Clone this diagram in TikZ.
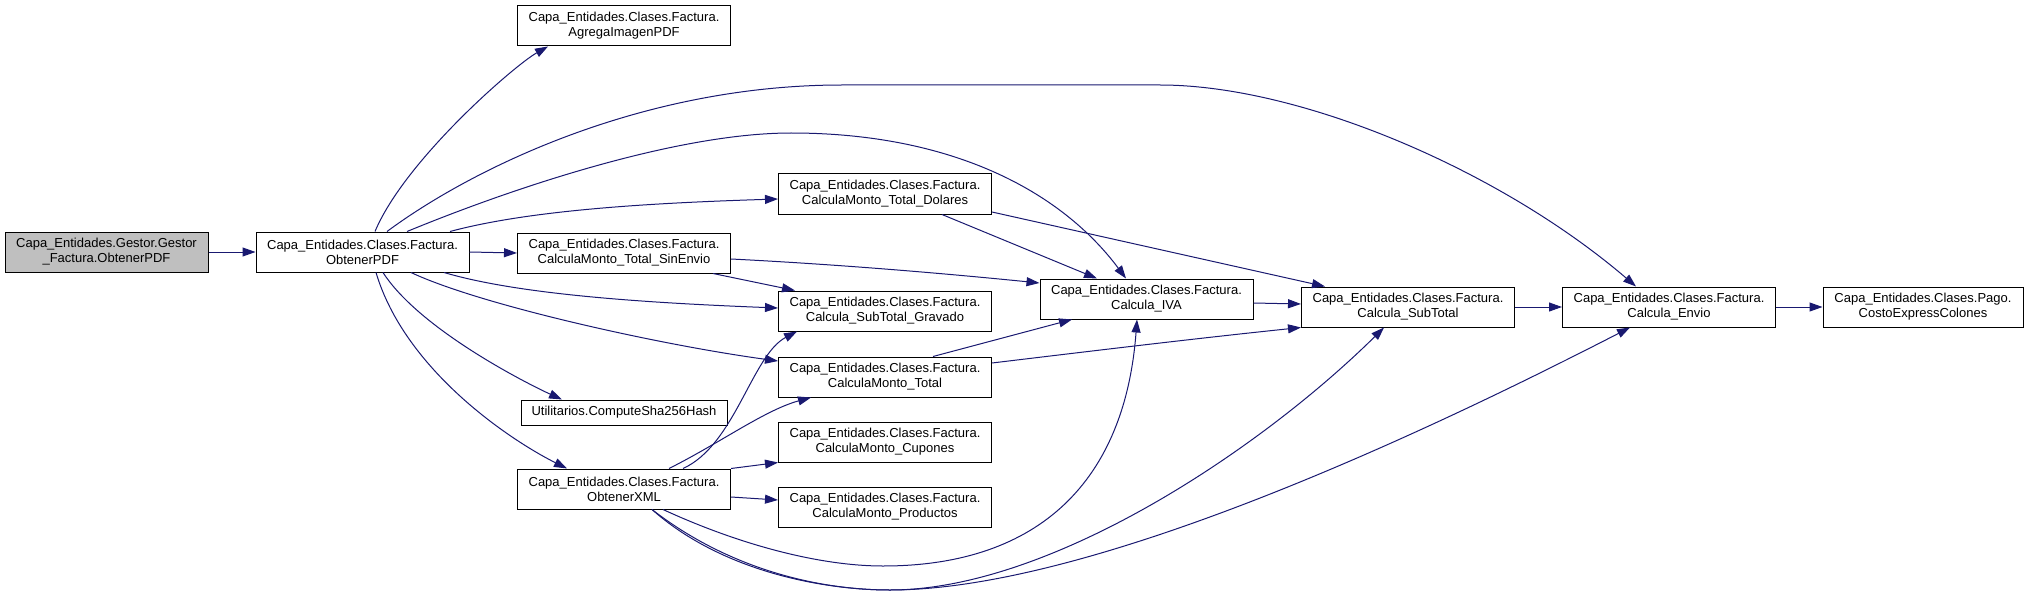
\documentclass[tikz,border=0pt]{standalone}
\usepackage{fontspec}
\setmainfont{Liberation Sans}
\usetikzlibrary{arrows.meta}
\definecolor{edgeblue}{HTML}{191970}
\definecolor{rootgray}{HTML}{BFBFBF}
\begin{document}
\begin{tikzpicture}[x=1pt,y=-1pt,
  fn/.style={draw=black, line width=1pt, fill=white, minimum width=213pt, minimum height=40pt,
    inner sep=0pt, align=center, font=\fontsize{13}{15}\selectfont},
  root/.style={fn, fill=rootgray, minimum width=203pt},
  edge/.style={draw=edgeblue, line width=1pt, -{Triangle[length=13pt,width=9pt]}}]
\useasboundingbox (0,0) rectangle (2028,596);
% nodes
\node[root] (gestor) at (106.5,252) {Capa\_Entidades.Gestor.Gestor\\\_Factura.ObtenerPDF};
\node[fn] (pdf) at (362.5,252) {Capa\_Entidades.Clases.Factura.\\ObtenerPDF};
\node[fn] (agrega) at (624,26) {Capa\_Entidades.Clases.Factura.\\AgregaImagenPDF};
\node[fn] (sinenvio) at (624,253) {Capa\_Entidades.Clases.Factura.\\CalculaMonto\_Total\_SinEnvio};
\node[fn, minimum width=206pt, minimum height=25pt] (sha) at (624,412.5) {Utilitarios.ComputeSha256Hash};
\node[fn] (xml) at (624,489) {Capa\_Entidades.Clases.Factura.\\ObtenerXML};
\node[fn] (dolares) at (885,194) {Capa\_Entidades.Clases.Factura.\\CalculaMonto\_Total\_Dolares};
\node[fn] (gravado) at (885,311) {Capa\_Entidades.Clases.Factura.\\Calcula\_SubTotal\_Gravado};
\node[fn] (montototal) at (885,377) {Capa\_Entidades.Clases.Factura.\\CalculaMonto\_Total};
\node[fn] (cupones) at (885,442) {Capa\_Entidades.Clases.Factura.\\CalculaMonto\_Cupones};
\node[fn] (productos) at (885,507) {Capa\_Entidades.Clases.Factura.\\CalculaMonto\_Productos};
\node[fn] (iva) at (1146.5,299) {Capa\_Entidades.Clases.Factura.\\Calcula\_IVA};
\node[fn] (subtotal) at (1408,307) {Capa\_Entidades.Clases.Factura.\\Calcula\_SubTotal};
\node[fn] (envio) at (1669,307) {Capa\_Entidades.Clases.Factura.\\Calcula\_Envio};
\node[fn, minimum width=200pt] (costo) at (1923,307) {Capa\_Entidades.Clases.Pago.\\CostoExpressColones};
% edges
\draw[edge] (gestor) -- (pdf);
\draw[edge] ([xshift=12.5pt]pdf.north) .. controls (405,160) and (515,65) .. ([xshift=-76pt]agrega.south);
\draw[edge] ([xshift=24.5pt]pdf.north) .. controls (470,170) and (640,85) .. (842,85) -- (1160,85)
  .. controls (1300,85) and (1500,170) .. ([xshift=-33pt]envio.north);
\draw[edge] ([xshift=44.5pt]pdf.north) .. controls (520,185) and (680,133) .. (791,133)
  .. controls (950,133) and (1060,190) .. ([xshift=-20.5pt]iva.north);
\draw[edge] ([xshift=87.5pt]pdf.north) .. controls (530,210) and (650,203) .. ([yshift=-5pt]dolares.west);
\draw[edge] (pdf.east) -- (sinenvio.west);
\draw[edge] ([xshift=81.5pt]pdf.south) .. controls (520,295) and (650,303) .. ([yshift=3pt]gravado.west);
\draw[edge] ([xshift=48.5pt]pdf.south) .. controls (480,305) and (660,345) .. ([yshift=16pt]montototal.west);
\draw[edge] ([xshift=20.5pt]pdf.south) .. controls (420,330) and (530,385) .. ([xshift=-62pt]sha.north);
\draw[edge] ([xshift=13.5pt]pdf.south) .. controls (405,370) and (510,440) .. ([xshift=-57pt]xml.north);
\draw[edge] ([xshift=57pt]dolares.south) -- ([xshift=-49.5pt]iva.north);
\draw[edge] ([yshift=-18pt]dolares.east) -- ([xshift=-83pt]subtotal.north);
\draw[edge] ([yshift=-6pt]sinenvio.east) .. controls (850,265) and (960,275) .. ([yshift=16pt]iva.west);
\draw[edge] ([xshift=89pt]sinenvio.south) -- ([xshift=-90pt]gravado.north);
\draw[edge] ([yshift=-4pt]iva.east) -- ([yshift=3pt]subtotal.west);
\draw[edge] (subtotal) -- (envio);
\draw[edge] (envio) -- (costo);
\draw[edge] ([xshift=48pt]montototal.north) -- ([xshift=-74.5pt]iva.south);
\draw[edge] ([yshift=14pt]montototal.east) .. controls (1100,350) and (1200,338) .. (subtotal.south west);
\draw[edge] ([xshift=59pt]xml.north) .. controls (735,445) and (752,355) .. ([xshift=-88pt]gravado.south);
\draw[edge] ([xshift=45pt]xml.north) .. controls (720,443) and (765,410) .. ([xshift=-74pt]montototal.south);
\draw[edge] (xml.north east) -- (cupones.south west);
\draw[edge] ([yshift=-8pt]xml.east) -- ([yshift=7pt]productos.west);
\draw[edge] ([xshift=39pt]xml.south) .. controls (740,545) and (820,566) .. (883,566)
  .. controls (1040,566) and (1125,480) .. ([xshift=-9.5pt]iva.south);
\draw[edge] ([xshift=28pt]xml.south) .. controls (720,570) and (820,590) .. (890,590)
  .. controls (1050,590) and (1260,450) .. ([xshift=-24pt]subtotal.south);
\draw[edge] ([xshift=28pt]xml.south) .. controls (730,570) and (820,590) .. (890,590)
  .. controls (1100,590) and (1450,420) .. ([xshift=-39pt]envio.south);
\end{tikzpicture}
\end{document}
